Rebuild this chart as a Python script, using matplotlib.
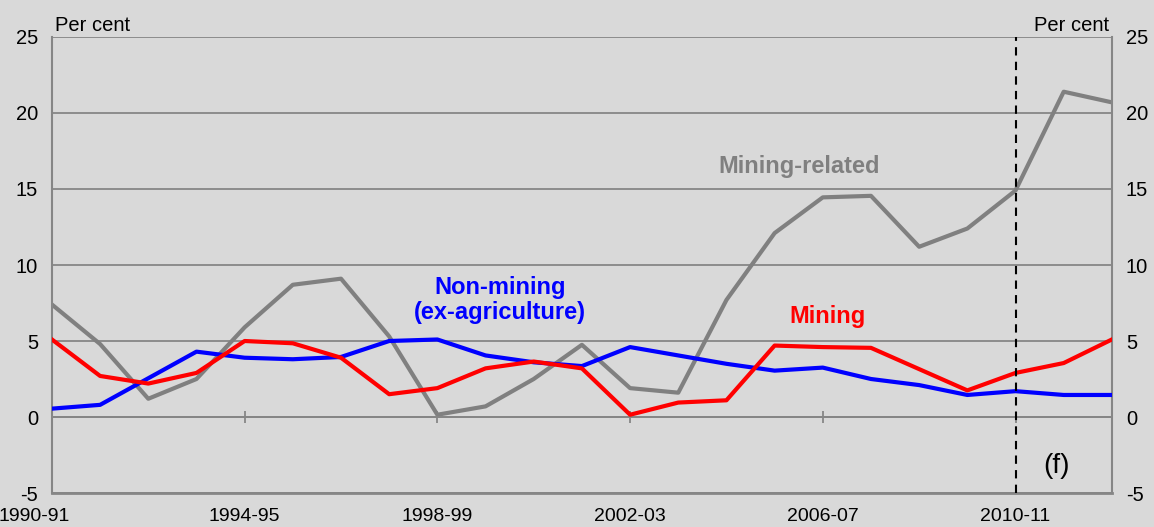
"""Mining, mining-related and non-mining growth, per cent (reproduction)."""

import matplotlib

matplotlib.use("Agg")
import matplotlib.pyplot as plt  # noqa: E402
import matplotlib.transforms as mtransforms  # noqa: E402

plt.rcParams["font.family"] = ["Liberation Sans", "DejaVu Sans"]
plt.rcParams["axes.unicode_minus"] = False

years = [f"{y}-{(y + 1) % 100:02d}" for y in range(1990, 2013)]

mining_related = [7.4, 4.8, 1.2, 2.5, 5.9, 8.7, 9.1, 5.3, 0.15, 0.7, 2.5, 4.75,
                  1.9, 1.6, 7.7, 12.1, 14.45, 14.55, 11.2, 12.4, 14.9, 21.4, 20.7]
mining = [5.1, 2.7, 2.2, 2.9, 5.0, 4.85, 3.9, 1.5, 1.9, 3.2, 3.65, 3.2,
          0.15, 0.95, 1.1, 4.7, 4.6, 4.55, 3.15, 1.75, 2.9, 3.55, 5.1]
non_mining = [0.55, 0.8, 2.55, 4.3, 3.9, 3.8, 3.95, 5.0, 5.1, 4.05, 3.6, 3.35,
              4.6, 4.05, 3.5, 3.05, 3.25, 2.5, 2.1, 1.45, 1.7, 1.45, 1.45]

forecast_start = "2010-11"
yticks = [-5, 0, 5, 10, 15, 20, 25]

BG = "#d9d9d9"
GRID = "#868686"

fig = plt.figure(figsize=(11.54, 5.27), dpi=100, facecolor=BG)
ax = fig.add_axes([0.045, 0.0645, 0.9185, 0.8653], facecolor=BG)

x = list(range(len(years)))
ax.plot(x, non_mining, color="#0000ff", lw=3.0, zorder=3)
ax.plot(x, mining, color="#ff0000", lw=3.0, zorder=4)
ax.plot(x, mining_related, color="#808080", lw=3.0, zorder=2)

fx = years.index(forecast_start)
ax.axvline(fx, color="black", lw=1.5, ls=(0, (4, 3)), zorder=5)

ax.set_xlim(0, len(years) - 1)
ax.set_ylim(-5, 25)
ax.set_yticks(yticks)
ax.yaxis.grid(True, color=GRID, lw=1.3)
ax.set_axisbelow(True)

# x axis sits on the zero line, labels pushed down below the frame
ax.spines["bottom"].set_position(("data", 0))
ax.spines["bottom"].set_color(GRID)
ax.spines["bottom"].set_linewidth(1.3)
ax.spines["top"].set_visible(False)
for side in ("left", "right"):
    ax.spines[side].set_color(GRID)
    ax.spines[side].set_linewidth(1.5)
ax.axhline(-5, color=GRID, lw=2, clip_on=False, zorder=1)

xt = list(range(0, len(years), 4))
ax.set_xticks(xt)
ax.set_xticklabels([years[i] for i in xt])
ax.tick_params(axis="x", direction="inout", length=9, width=1.3, color=GRID,
               pad=61, labelsize=14)
ax.tick_params(axis="y", length=0, labelsize=14.5, pad=10, labelright=True)

first = ax.get_xticklabels()[0]
first.set_transform(first.get_transform()
                    + mtransforms.ScaledTranslation(-18 / 100, 0, fig.dpi_scale_trans))

ax.text(0.003, 1.004, "Per cent", transform=ax.transAxes, fontsize=14.5,
        ha="left", va="bottom")
ax.text(0.997, 1.004, "Per cent", transform=ax.transAxes, fontsize=14.5,
        ha="right", va="bottom")

label_kw = dict(fontsize=17, fontweight="bold", ha="center", va="center")
ax.text(15.5, 16.5, "Mining-related", color="#808080", **label_kw)
ax.text(9.3, 7.7, "Non-mining\n(ex-agriculture)", color="#0000ff",
        linespacing=1.15, **label_kw)
ax.text(16.1, 6.6, "Mining", color="#ff0000", **label_kw)
ax.text(20.85, -3.2, "(f)", fontsize=20, ha="center", va="center")

fig.savefig("out.png", dpi=100, facecolor=BG)
